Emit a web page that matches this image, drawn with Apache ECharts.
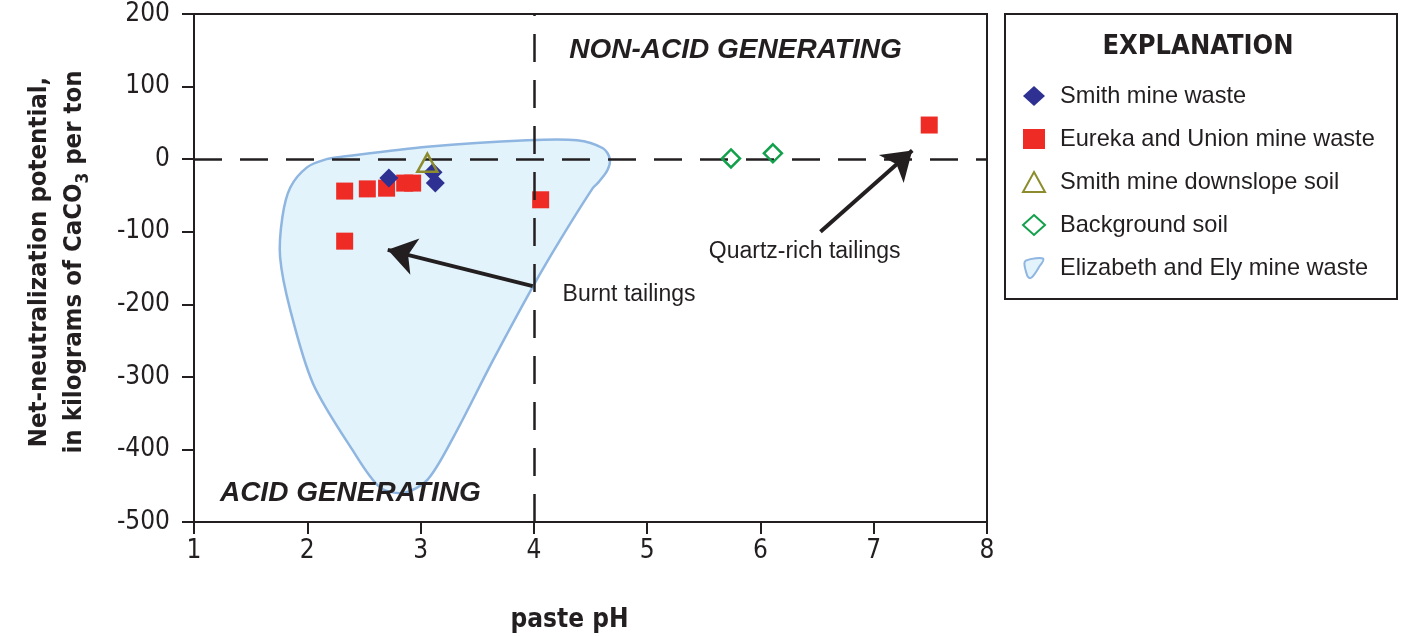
<!DOCTYPE html>
<html>
<head>
<meta charset="utf-8">
<script src="https://cdn.jsdelivr.net/npm/echarts@6/dist/echarts.min.js"></script>
<style>html,body{margin:0;padding:0;background:#fff}#c{width:1401px;height:636px}</style>
</head>
<body>
<div id="c"></div>
<script>
// ---- data ----
const xTicks = [1, 2, 3, 4, 5, 6, 7, 8];
const yTicks = [-500, -400, -300, -200, -100, 0, 100, 200];
const smithWaste = [[2.72, -26], [3.11, -18], [3.13, -33]];
const eurekaUnion = [[2.33, -44], [2.53, -41], [2.70, -40], [2.86, -33], [2.93, -33], [2.33, -113], [4.06, -56], [7.49, 47]];
const smithSoil = [[3.06, -5]];
const backgroundSoil = [[5.74, 1], [6.11, 8]];
const elizabethElyX = [2.17, 2.29, 3.06, 3.94, 4.38, 4.61, 4.67, 4.65, 4.57, 4.52, 4.23, 3.99, 3.64, 3.29, 3.06, 2.85, 2.64, 2.40, 2.05, 1.85, 1.76, 1.78, 1.85, 2.00];
const elizabethElyY = [0, 3, 17, 26, 26, 15, 1, -15, -32, -40, -112, -176, -277, -383, -442, -460, -452, -401, -309, -208, -135, -80, -39, -11];
const seriesNames = ['Smith mine waste', 'Eureka and Union mine waste', 'Smith mine downslope soil', 'Background soil', 'Elizabeth and Ely mine waste'];
const regionLabels = [
  {text: 'NON-ACID GENERATING', at: [5.78, 150]},
  {text: 'ACID GENERATING', at: [2.38, -460]}
];
const noteLabels = [
  {text: 'Burnt tailings', at: [4.84, -187], from: [3.99, -175], to: [2.71, -125]},
  {text: 'Quartz-rich tailings', at: [6.39, -128], from: [6.53, -100], to: [7.34, 12]}
];
const thresholdPH = 4;
const thresholdNNP = 0;

// ---- chart ----
const FONT = "'Liberation Sans', Arial, sans-serif";
const NARROW = "'Liberation Sans Narrow', 'DejaVu Sans Condensed', 'Liberation Sans', sans-serif";
const INK = '#231f20';
const chart = echarts.init(document.getElementById('c'), null, {renderer: 'canvas'});

const polyPts = elizabethElyX.map((x, i) => [x, elizabethElyY[i]]);
const blobIcon = 'path://M3,5 C12,1 27,0 30,2 C32,4 28,9 24,14 C20,21 16,28 12,31 C9,33 6,31 5,27 C3,21 1,14 1,9 C1,7 2,6 3,5 Z';

const option = {
  animation: false,
  backgroundColor: '#fff',
  grid: {left: 194, right: 414, top: 14, bottom: 114, show: true, borderColor: INK, borderWidth: 2, backgroundColor: 'transparent', containLabel: false, outerBoundsMode: 'none'},
  xAxis: {
    type: 'value', min: xTicks[0], max: xTicks[xTicks.length - 1], interval: 1,
    name: 'paste pH', nameLocation: 'middle', nameGap: 85,
    nameTextStyle: {fontFamily: NARROW, fontWeight: 'bold', fontSize: 26, color: INK, padding: [0, 42, 0, 0]},
    axisLine: {show: true, onZero: false, lineStyle: {color: INK, width: 2}},
    axisTick: {show: true, length: 12, lineStyle: {color: INK, width: 2}},
    axisLabel: {fontFamily: NARROW, fontSize: 26, color: INK, margin: 16},
    splitLine: {show: false}
  },
  yAxis: {
    type: 'value', min: yTicks[0], max: yTicks[yTicks.length - 1], interval: 100,
    name: 'Net-neutralization potential,\nin kilograms of CaCO{sub|3} per ton',
    nameLocation: 'middle', nameGap: 102, nameRotate: 90,
    nameTextStyle: {fontFamily: NARROW, fontWeight: 'bold', fontSize: 25.5, color: INK, lineHeight: 35, padding: [0, 0, 0, 12],
      rich: {sub: {fontFamily: NARROW, fontWeight: 'bold', fontSize: 17, color: INK, verticalAlign: 'bottom', padding: [10, 0, 0, 0]}}},
    axisLine: {show: true, onZero: false, lineStyle: {color: INK, width: 2}},
    axisTick: {show: true, length: 12, lineStyle: {color: INK, width: 2}},
    axisLabel: {fontFamily: NARROW, fontSize: 26, color: INK, margin: 24},
    splitLine: {show: false}
  },
  legend: {
    orient: 'vertical', left: 1017, top: 79, itemGap: 19, itemWidth: 22, itemHeight: 20,
    textStyle: {fontFamily: FONT, fontSize: 23.6, color: INK, lineHeight: 24, padding: [0, 0, 0, 10]},
    data: seriesNames.map((n, i) => i === 4 ? {name: n, icon: blobIcon} : {name: n})
  },
  graphic: [
    {type: 'rect', x: 1005, y: 14, shape: {width: 392, height: 285}, style: {fill: 'none', stroke: INK, lineWidth: 2}, z: 1},
    {type: 'text', x: 1198, y: 47, style: {text: 'EXPLANATION', fontFamily: NARROW, fontWeight: 'bold', fontSize: 27, fill: INK, align: 'center', verticalAlign: 'middle'}}
  ],
  series: [
    {
      name: seriesNames[4], type: 'custom', z: 1, clip: false,
      itemStyle: {color: '#e2f3fc', borderColor: '#8fb6e0', borderWidth: 2},
      data: [polyPts[0]],
      renderItem: function (params, api) {
        const pts = polyPts.map(p => api.coord(p));
        return {type: 'polygon', shape: {points: pts, smooth: 0.3}, style: {fill: '#e2f3fc', stroke: '#8fb6e0', lineWidth: 2.5}};
      }
    },
    {
      name: 'thresholds', type: 'scatter', data: [], z: 2, silent: true,
      markLine: {
        silent: true, symbol: ['none', 'none'], label: {show: false},
        lineStyle: {color: INK, width: 2.5, type: [28, 18]},
        data: [{yAxis: thresholdNNP}, {xAxis: thresholdPH}]
      }
    },
    {
      name: 'notes', type: 'scatter', data: [], z: 6, silent: true,
      markLine: {
        silent: true, symbol: ['none', 'arrow'], symbolSize: 28, label: {show: false},
        itemStyle: {color: INK},
        lineStyle: {color: INK, width: 4, type: 'solid'},
        data: noteLabels.map(n => [{coord: n.from}, {coord: n.to}])
      },
      markPoint: {
        silent: true, symbol: 'circle', symbolSize: 1, itemStyle: {color: 'rgba(0,0,0,0)'},
        data: regionLabels.map(r => ({coord: r.at, label: {show: true, position: 'inside', formatter: r.text, fontFamily: FONT, fontWeight: 'bold', fontStyle: 'italic', fontSize: 28, color: INK}}))
          .concat(noteLabels.map(n => ({coord: n.at, label: {show: true, position: 'inside', formatter: n.text, fontFamily: FONT, fontSize: 23, color: INK}})))
      }
    },
    {
      name: seriesNames[1], type: 'scatter', symbol: 'rect', symbolSize: 17, z: 4,
      itemStyle: {color: '#ee2b24', opacity: 1},
      data: eurekaUnion
    },
    {
      name: seriesNames[0], type: 'scatter', symbol: 'diamond', symbolSize: 19, z: 5,
      itemStyle: {color: '#2e3192', opacity: 1},
      data: smithWaste
    },
    {
      name: seriesNames[2], type: 'scatter', symbol: 'triangle', symbolSize: [20, 18], z: 5,
      itemStyle: {color: 'rgba(255,255,255,0)', borderColor: '#8c8c2e', borderWidth: 2.5, opacity: 1},
      data: smithSoil
    },
    {
      name: seriesNames[3], type: 'scatter', symbol: 'diamond', symbolSize: 18, z: 5,
      itemStyle: {color: 'rgba(255,255,255,0)', borderColor: '#12a04b', borderWidth: 2.5, opacity: 1},
      data: backgroundSoil
    }
  ]
};
chart.setOption(option);
</script>
</body>
</html>
